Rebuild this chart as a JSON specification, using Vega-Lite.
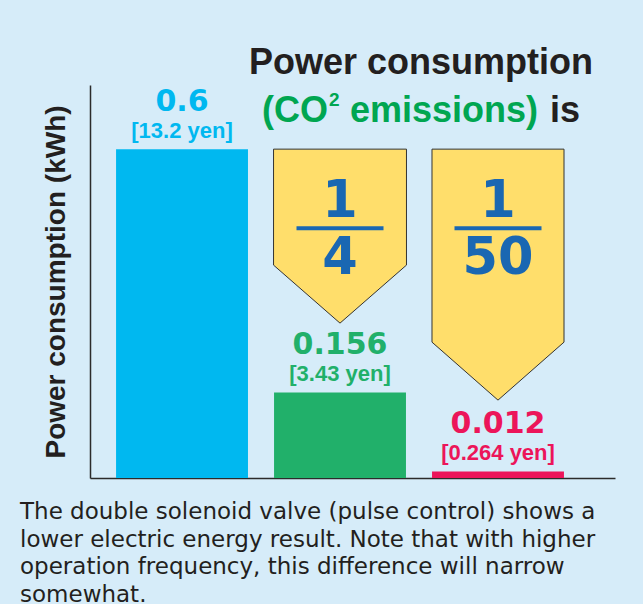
{
  "$schema": "https://vega.github.io/schema/vega-lite/v6.json",
  "width": 525,
  "height": 393,
  "autosize": "none",
  "padding": {"left": 90, "top": 85, "right": 28, "bottom": 126},
  "background": "#d6ecf9",
  "config": {
    "view": {"stroke": null},
    "font": "Liberation Sans",
    "axis": {"domainColor": "#2b2b2b", "domainWidth": 1.5, "grid": false, "ticks": false, "labels": false}
  },
  "datasets": {
    "consumption": [
      {"setup": "Single solenoid valve", "kwh": 0.6, "value_label": "0.6", "cost": "[13.2 yen]", "baseline_kwh": 0.6, "num": null, "den": null},
      {"setup": "Double solenoid valve", "kwh": 0.156, "value_label": "0.156", "cost": "[3.43 yen]", "baseline_kwh": 0.6, "num": "1", "den": "4"},
      {"setup": "Double solenoid valve (pulse control)", "kwh": 0.012, "value_label": "0.012", "cost": "[0.264 yen]", "baseline_kwh": 0.6, "num": "1", "den": "50"}
    ],
    "notes": [
      {"kind": "title", "piece": "Power consumption"},
      {"kind": "green", "piece": "(CO"},
      {"kind": "super", "piece": "2"},
      {"kind": "green2", "piece": "emissions)"},
      {"kind": "black", "piece": "is"},
      {"kind": "caption", "piece": "The double solenoid valve (pulse control) shows a\nlower electric energy result. Note that with higher\noperation frequency, this difference will narrow\nsomewhat."}
    ]
  },
  "data": {"name": "consumption"},
  "encoding": {
    "x": {
      "field": "setup", "type": "nominal", "sort": null,
      "scale": {"domain": ["Single solenoid valve", "Double solenoid valve", "Double solenoid valve (pulse control)"], "paddingInner": 0.165, "paddingOuter": 0.244, "align": 0.338},
      "axis": {"title": null}
    }
  },
  "layer": [
    {
      "mark": {"type": "bar"},
      "encoding": {
        "y": {"field": "kwh", "type": "quantitative", "scale": {"domain": [0, 0.717], "nice": false},
          "axis": {"title": "Power consumption (kWh)", "titleFontSize": 28, "titleFontWeight": "bold", "titleColor": "#231f20", "titlePadding": 20, "minExtent": 0, "titleFont": "Liberation Sans"}},
        "color": {"field": "setup", "type": "nominal", "scale": {"domain": ["Single solenoid valve", "Double solenoid valve", "Double solenoid valve (pulse control)"], "range": ["#00b8f0", "#21b06a", "#ec155a"]}, "legend": null}
      }
    },
    {
      "mark": {"type": "text", "font": "DejaVu Sans", "fontWeight": "bold", "fontSize": 30, "dy": -38, "baseline": "alphabetic", "align": "center"},
      "encoding": {
        "y": {"field": "kwh", "type": "quantitative"},
        "text": {"field": "value_label"},
        "color": {"field": "setup", "type": "nominal", "legend": null}
      }
    },
    {
      "mark": {"type": "text", "font": "Liberation Sans", "fontWeight": "bold", "fontSize": 22, "dy": -11, "baseline": "alphabetic", "align": "center"},
      "encoding": {
        "y": {"field": "kwh", "type": "quantitative"},
        "text": {"field": "cost"},
        "color": {"field": "setup", "type": "nominal", "legend": null}
      }
    },
    {
      "transform": [{"filter": "datum.den === '4'"}],
      "mark": {"type": "point", "shape": "M-0.764,0L0.764,0L0.764,1.333L0,2L-0.764,1.333Z", "size": 30276, "filled": true, "fill": "#ffde6b", "stroke": "#333333", "strokeWidth": 1, "opacity": 1},
      "encoding": {"y": {"field": "baseline_kwh", "type": "quantitative"}}
    },
    {
      "transform": [{"filter": "datum.den === '50'"}],
      "mark": {"type": "point", "shape": "M-0.526,0L0.526,0L0.526,1.538L0,2L-0.526,1.538Z", "size": 63001, "filled": true, "fill": "#ffde6b", "stroke": "#333333", "strokeWidth": 1, "opacity": 1},
      "encoding": {"y": {"field": "baseline_kwh", "type": "quantitative"}}
    },
    {
      "transform": [{"filter": "datum.num !== null"}],
      "mark": {"type": "text", "font": "DejaVu Sans", "fontWeight": "bold", "fontSize": 51, "dy": 68, "baseline": "alphabetic", "align": "center", "color": "#1a67b2"},
      "encoding": {"y": {"field": "baseline_kwh", "type": "quantitative"}, "text": {"field": "num"}}
    },
    {
      "transform": [{"filter": "datum.den !== null"}],
      "mark": {"type": "text", "font": "DejaVu Sans", "fontWeight": "bold", "fontSize": 51, "dy": 125, "baseline": "alphabetic", "align": "center", "color": "#1a67b2"},
      "encoding": {"y": {"field": "baseline_kwh", "type": "quantitative"}, "text": {"field": "den"}}
    },
    {
      "transform": [{"filter": "datum.den !== null"}],
      "mark": {"type": "tick", "color": "#1a67b2", "thickness": 4, "size": 87, "yOffset": 79, "opacity": 1},
      "encoding": {"y": {"field": "baseline_kwh", "type": "quantitative"}}
    },
    {
      "data": {"name": "notes"},
      "transform": [{"filter": "datum.kind === 'title'"}],
      "mark": {"type": "text", "font": "Liberation Sans", "fontWeight": "bold", "fontSize": 36, "color": "#231f20", "align": "center", "baseline": "alphabetic", "dx": 81, "dy": -75},
      "encoding": {"x": {"datum": "Double solenoid valve", "type": "nominal"}, "y": {"datum": 0.6, "type": "quantitative"}, "text": {"field": "piece"}}
    },
    {
      "data": {"name": "notes"},
      "transform": [{"filter": "datum.kind === 'green'"}],
      "mark": {"type": "text", "font": "Liberation Sans", "fontWeight": "bold", "fontSize": 36, "color": "#00a651", "align": "left", "baseline": "alphabetic", "dx": -78, "dy": -27},
      "encoding": {"x": {"datum": "Double solenoid valve", "type": "nominal"}, "y": {"datum": 0.6, "type": "quantitative"}, "text": {"field": "piece"}}
    },
    {
      "data": {"name": "notes"},
      "transform": [{"filter": "datum.kind === 'super'"}],
      "mark": {"type": "text", "font": "Liberation Sans", "fontWeight": "bold", "fontSize": 19, "color": "#00a651", "align": "left", "baseline": "alphabetic", "dx": -11, "dy": -43},
      "encoding": {"x": {"datum": "Double solenoid valve", "type": "nominal"}, "y": {"datum": 0.6, "type": "quantitative"}, "text": {"field": "piece"}}
    },
    {
      "data": {"name": "notes"},
      "transform": [{"filter": "datum.kind === 'green2'"}],
      "mark": {"type": "text", "font": "Liberation Sans", "fontWeight": "bold", "fontSize": 36, "color": "#00a651", "align": "left", "baseline": "alphabetic", "dx": 10, "dy": -27},
      "encoding": {"x": {"datum": "Double solenoid valve", "type": "nominal"}, "y": {"datum": 0.6, "type": "quantitative"}, "text": {"field": "piece"}}
    },
    {
      "data": {"name": "notes"},
      "transform": [{"filter": "datum.kind === 'black'"}],
      "mark": {"type": "text", "font": "Liberation Sans", "fontWeight": "bold", "fontSize": 36, "color": "#231f20", "align": "left", "baseline": "alphabetic", "dx": 210, "dy": -27},
      "encoding": {"x": {"datum": "Double solenoid valve", "type": "nominal"}, "y": {"datum": 0.6, "type": "quantitative"}, "text": {"field": "piece"}}
    },
    {
      "data": {"name": "notes"},
      "transform": [{"filter": "datum.kind === 'caption'"}],
      "mark": {"type": "text", "font": "DejaVu Sans", "fontSize": 23, "color": "#231f20", "align": "left", "baseline": "alphabetic", "lineBreak": "\n", "lineHeight": 27.7, "dx": -162, "dy": 41},
      "encoding": {"x": {"datum": "Single solenoid valve", "type": "nominal"}, "y": {"datum": 0, "type": "quantitative"}, "text": {"field": "piece"}}
    }
  ]
}
